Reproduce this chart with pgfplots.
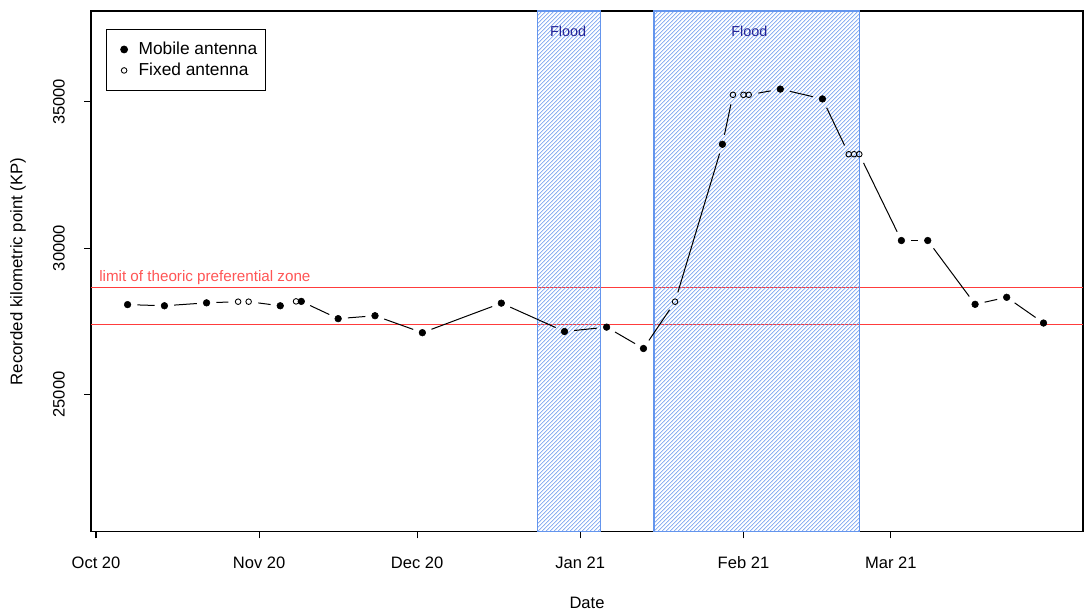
\documentclass[border=0pt]{standalone}
\usepackage{pgfplots}
\pgfplotsset{compat=1.18}
\usepackage{pgfplotstable}
\usepackage{fontspec}
\setmainfont{Liberation Sans}
\usetikzlibrary{patterns}

\definecolor{floodblue}{RGB}{100,149,237}
\definecolor{floodtext}{RGB}{35,35,150}
\definecolor{limitred}{RGB}{255,60,60}
\definecolor{limittext}{RGB}{255,85,85}

% x = days since 1 Oct 2020
\pgfplotstableread{
d kp
6 28070
13 28030
21 28130
35 28030
39 28180
46 27590
53 27690
62 27110
77 28120
89 27150
97 27300
104 26570
119 33550
130 35435
138 35100
153 30260
158 30260
167 28080
173 28320
180 27440
}\mobile

\pgfplotstableread{
d kp
27 28170
29 28170
38 28180
110 28170
121 35240
123 35240
124 35240
143 33210
144 33210
145 33210
}\fixed

% visible pieces of the joining line (type "b")
\pgfplotstableread{
x y x2 y2
6 28070 13 28030
13 28030 21 28130
21 28130 27 28170
29 28170 35 28030
39 28180 46 27590
46 27590 53 27690
53 27690 62 27110
62 27110 77 28120
77 28120 89 27150
89 27150 97 27300
97 27300 104 26570
104 26570 110 28170
110 28170 119 33550
119 33550 121 35240
124 35240 130 35435
130 35435 138 35100
138 35100 143 33210
145 33210 153 30260
153 30260 158 30260
158 30260 167 28080
167 28080 173 28320
173 28320 180 27440
}\segments

\begin{document}
\begin{tikzpicture}
\begin{axis}[
    scale only axis,
    width=744pt, height=390.5pt,
    xmin=-0.95, xmax=187.5,
    ymin=20310, ymax=38105,
    scaled y ticks=false,
    axis line style={line width=1pt},
    tick align=outside,
    tick style={black, line width=0.8pt},
    major tick length=5pt,
    xtick pos=left, ytick pos=left,
    xtick={0,31,61,92,123,151},
    xticklabels={Oct 20,Nov 20,Dec 20,Jan 21,Feb 21,Mar 21},
    ytick={25000,30000,35000},
    yticklabels={25000,30000,35000},
    tick label style={font=\fontsize{12.4}{14}\selectfont},
    xticklabel style={anchor=north, inner sep=0pt},
    yticklabel style={rotate=90, anchor=south, inner sep=0pt},
    xticklabel shift=13.5pt,
    yticklabel shift=14.5pt,
    xlabel={Date},
    ylabel={Recorded kilometric point (KP)},
    xlabel style={at={(axis description cs:0.5,-0.137)}, anchor=center, font=\fontsize{12.4}{14}\selectfont},
    ylabel style={at={(axis description cs:-0.0736,0.5)}, anchor=center, font=\fontsize{12.6}{14}\selectfont},
    legend style={at={(axis description cs:0.0151,0.9654)}, anchor=north west,
        draw=black, line width=0.8pt, inner xsep=4.5pt, inner ysep=7.5pt,
        row sep=0.8pt, cells={anchor=west}, nodes={inner sep=2pt},
        font=\fontsize{13}{15}\selectfont},
    legend image code/.code={\path (-8.3pt,-1pt) (8.5pt,1pt); \draw[#1, only marks] plot coordinates {(0pt,0pt)};},
]

% limits of the preferential zone (thin filled bands)
\addplot[forget plot, fill=limitred, draw=none]
    coordinates {(-0.95,27380)(187.5,27380)(187.5,27420)(-0.95,27420)} -- cycle;
\addplot[forget plot, fill=limitred, draw=none]
    coordinates {(-0.95,28640)(187.5,28640)(187.5,28680)(-0.95,28680)} -- cycle;

% flood periods
\addplot[forget plot, draw=floodblue, line width=0.8pt,
    pattern color=floodblue, pattern=north east lines]
    coordinates {(83.9,20310)(95.9,20310)(95.9,38105)(83.9,38105)} -- cycle;
\addplot[forget plot, draw=floodblue, line width=0.8pt,
    pattern color=floodblue, pattern=north east lines]
    coordinates {(106.0,20310)(145.1,20310)(145.1,38105)(106.0,38105)} -- cycle;

% joining line with gaps round the points
\addplot[forget plot, black, line width=0.75pt,
    quiver={u=\thisrow{x2}-\thisrow{x}, v=\thisrow{y2}-\thisrow{y},
        every arrow/.append style={shorten <=7.3pt, shorten >=7.3pt}}]
    table[x=x, y=y] {\segments};

\addplot[forget plot, only marks, mark=o, mark size=2.1pt, black, mark options={line width=0.65pt}]
    table[x=d, y=kp] {\fixed};
\addplot[forget plot, only marks, mark=*, mark size=2.5pt, black]
    table[x=d, y=kp] {\mobile};

\addlegendimage{only marks, mark=*, mark size=2.5pt, black}
\addlegendentry{Mobile antenna}
\addlegendimage{only marks, mark=o, mark size=2.1pt, black, mark options={line width=0.65pt}}
\addlegendentry{Fixed antenna}

\node[anchor=base west, inner sep=0pt, text=limittext, font=\fontsize{11.4}{13}\selectfont]
    at (axis cs:0.57,28855) {limit of theoric preferential zone};
\node[text=floodtext, font=\fontsize{10.8}{12}\selectfont] at (axis cs:89.7,37424) {Flood};
\node[text=floodtext, font=\fontsize{10.8}{12}\selectfont] at (axis cs:124.1,37424) {Flood};
\end{axis}
\path ([xshift=-68.25pt,yshift=-61pt]current axis.south west)
    rectangle ([xshift=1.5pt,yshift=8.25pt]current axis.north east);
\end{tikzpicture}
\end{document}
